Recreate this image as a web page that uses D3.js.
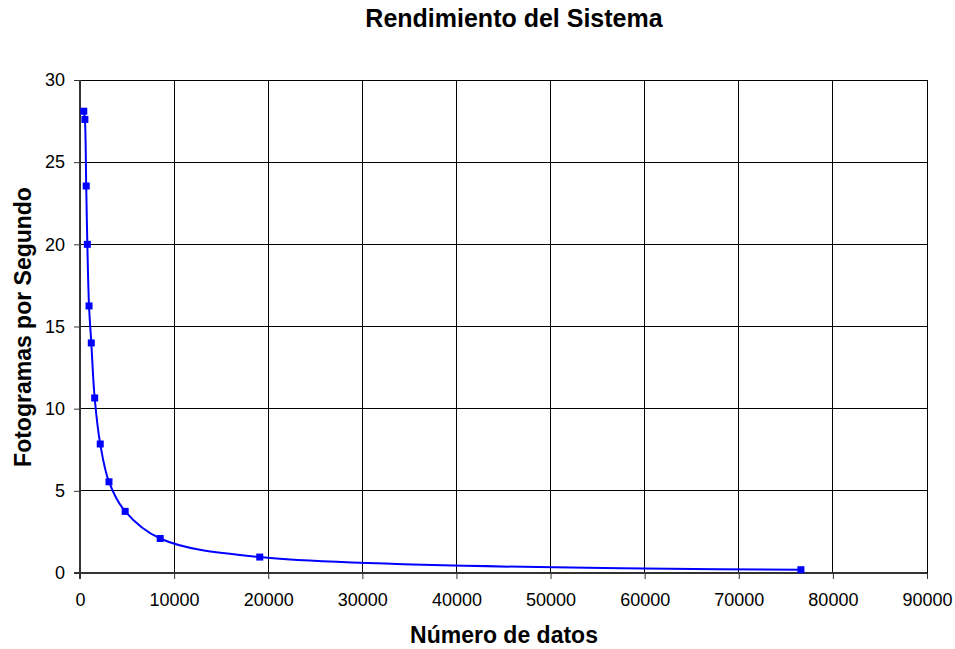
<!DOCTYPE html>
<html>
<head>
<meta charset="utf-8">
<script src="https://cdn.jsdelivr.net/npm/d3@7"></script>
<style>
  body { margin: 0; background: #fff; }
  text { font-family: "Liberation Sans", Arial, sans-serif; }
</style>
</head>
<body>
<script>
// datos
const num_datos = [400, 520, 660, 780, 960, 1200, 1560, 2150, 3080, 4800, 8520, 19100, 76600];
const fps = [28.1, 27.6, 23.55, 20.0, 16.25, 14.0, 10.65, 7.85, 5.55, 3.75, 2.1, 0.97, 0.2];
const x_ticks = [0, 10000, 20000, 30000, 40000, 50000, 60000, 70000, 80000, 90000];
const y_ticks = [0, 5, 10, 15, 20, 25, 30];

const pts = [];
for (let i = 0; i < num_datos.length; i++) {
  pts.push({x: num_datos[i], y: fps[i]});
}

const W = 955, H = 649;
const margin = {top: 80, right: 28, bottom: 76, left: 80},
  width = W - margin.left - margin.right,
  height = H - margin.top - margin.bottom;

const x = d3.scaleLinear().domain([0, 90000]).range([0, width]);
const y = d3.scaleLinear().domain([0, 30]).range([height, 0]);

const svg = d3.select("body").append("svg")
    .attr("width", W)
    .attr("height", H);

const g = svg.append("g")
    .attr("transform", "translate(" + margin.left + "," + margin.top + ")");

// gridlines
g.selectAll(".vgrid").data(x_ticks.slice(1)).enter().append("line")
    .attr("x1", d => x(d)).attr("x2", d => x(d))
    .attr("y1", 0).attr("y2", height)
    .attr("stroke", "#000").attr("stroke-width", 1)
    .attr("shape-rendering", "crispEdges");
g.selectAll(".hgrid").data(y_ticks.slice(1)).enter().append("line")
    .attr("x1", 0).attr("x2", width)
    .attr("y1", d => y(d)).attr("y2", d => y(d))
    .attr("stroke", "#000").attr("stroke-width", 1)
    .attr("shape-rendering", "crispEdges");

// axes
const xAxis = d3.axisBottom(x).tickValues(x_ticks).tickSize(6).tickPadding(14).tickFormat(d3.format("d"));
const yAxis = d3.axisLeft(y).tickValues(y_ticks).tickSize(6).tickPadding(9);

const gx = g.append("g").attr("transform", "translate(0," + height + ")").call(xAxis);
const gy = g.append("g").call(yAxis);

[gx, gy].forEach(a => {
  a.select(".domain").attr("stroke", "#333").attr("stroke-width", 2);
  a.selectAll(".tick line").attr("stroke", "#333").attr("stroke-width", 1);
  a.selectAll(".tick text").attr("font-size", 18).attr("fill", "#000")
    .style("font-family", "'Liberation Sans', Arial, sans-serif");
});
gy.select(".domain").attr("d", "M0," + (height + 6) + "V0");
gx.select(".domain").attr("d", "M-6,0H" + width);

// curva
const line = d3.line()
    .x(d => x(d.x))
    .y(d => y(d.y))
    .curve(d3.curveCatmullRom.alpha(0.5));

g.append("path")
    .datum(pts)
    .attr("d", line)
    .attr("fill", "none")
    .attr("stroke", "#0000ff")
    .attr("stroke-width", 2);

g.selectAll(".pt").data(pts).enter().append("rect")
    .attr("x", d => x(d.x) - 3.5)
    .attr("y", d => y(d.y) - 3.5)
    .attr("width", 7).attr("height", 7)
    .attr("fill", "#0000ff");

// titulos
svg.append("text")
    .attr("x", 514).attr("y", 27)
    .attr("text-anchor", "middle")
    .attr("font-size", 25).attr("font-weight", "bold")
    .text("Rendimiento del Sistema");

svg.append("text")
    .attr("x", 504).attr("y", 643)
    .attr("text-anchor", "middle")
    .attr("font-size", 23).attr("font-weight", "bold")
    .text("Número de datos");

svg.append("text")
    .attr("transform", "translate(31," + 327 + ") rotate(-90)")
    .attr("text-anchor", "middle")
    .attr("font-size", 23).attr("font-weight", "bold")
    .text("Fotogramas por Segundo");
</script>
</body>
</html>
